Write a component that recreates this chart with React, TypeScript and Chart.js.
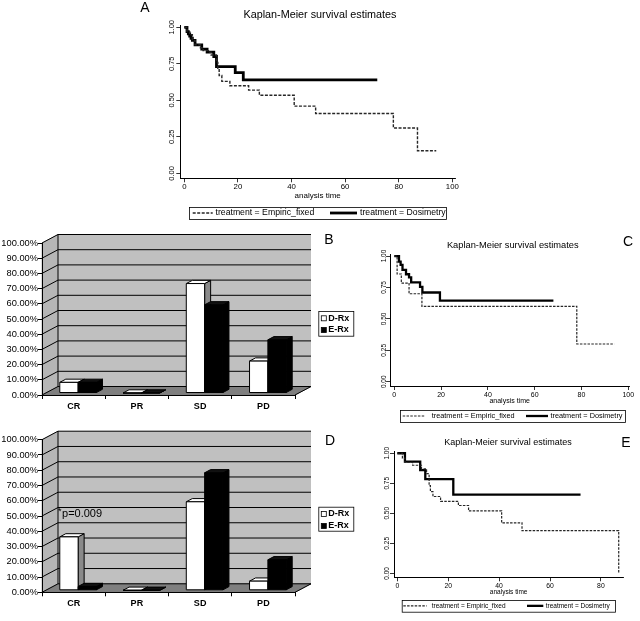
import React, { useEffect, useRef } from 'react';
import { Chart, registerables } from 'chart.js';

Chart.register(...registerables);

const FONT = "'Liberation Sans', Arial, Helvetica, sans-serif";
Chart.defaults.font.family = FONT;
Chart.defaults.color = '#000';

// ---------------- data ----------------
const kmTitle = 'Kaplan-Meier survival estimates';
const kmXTitle = 'analysis time';
const kmSeriesNames = ['treatment = Empiric_fixed', 'treatment = Dosimetry'];
const kmYTicks = [0, 0.25, 0.5, 0.75, 1];
const kmXTicks100 = [0, 20, 40, 60, 80, 100];
const kmXTicks80 = [0, 20, 40, 60, 80];

// Panel A
const aEmpTime = [0, 1, 2, 3, 4, 6, 7, 9, 10, 12, 12.5, 13, 14, 17, 24, 28, 41, 49, 78, 87, 94];
const aEmpSurv = [1, 0.97, 0.95, 0.91, 0.88, 0.86, 0.84, 0.83, 0.81, 0.76, 0.72, 0.67, 0.63, 0.6, 0.57, 0.535, 0.46, 0.41, 0.31, 0.155, 0.155];
const aDosTime = [0, 1, 1.5, 2, 2.5, 3, 4, 6.5, 8.5, 11, 12, 19, 22, 72];
const aDosSurv = [1, 0.97, 0.955, 0.94, 0.925, 0.91, 0.88, 0.85, 0.83, 0.8, 0.73, 0.69, 0.64, 0.64];

// Panel C
const cEmpTime = [0, 1.2, 3, 6.3, 11.8, 78, 94];
const cEmpSurv = [1, 0.857, 0.785, 0.7, 0.6, 0.3, 0.3];
const cDosTime = [0, 2, 2.7, 3.5, 5, 6.3, 7.2, 11, 12, 19.5, 68];
const cDosSurv = [1, 0.955, 0.93, 0.89, 0.855, 0.83, 0.79, 0.755, 0.71, 0.645, 0.645];

// Panel E
const eEmpTime = [0, 2, 3, 6, 9.5, 11.5, 12.5, 13, 14, 17, 24, 28, 41, 49, 87];
const eEmpSurv = [1, 0.96, 0.925, 0.9, 0.87, 0.83, 0.73, 0.68, 0.64, 0.6, 0.565, 0.52, 0.42, 0.355, 0];
const eDosTime = [0, 3, 9, 11, 22, 72];
const eDosSurv = [1, 0.93, 0.86, 0.785, 0.655, 0.655];

// Bar panels B and D (percent of patients)
const responseCategories = ['CR', 'PR', 'SD', 'PD'];
const barSeriesNames = ['D-Rx', 'E-Rx'];
const bDRx = [7, 0, 72, 21];
const bERx = [7, 0, 58, 35];
const dDRx = [35, 0, 58, 6];
const dERx = [2.5, 0, 77, 20];
const pctTicks = [0, 10, 20, 30, 40, 50, 60, 70, 80, 90, 100];
const dNote = 'p=0.009';

// ---------------- helpers ----------------
const EMP_COLOR = '#262626';

function pts(t: number[], s: number[]) {
  return t.map((x, i) => ({ x, y: s[i] }));
}

function kmConfig(g: any) {
  const ox = g.left, oy = g.top;
  const decor = {
    id: 'kmDecor',
    afterDraw(chart: any) {
      const ctx = chart.ctx;
      ctx.save();
      ctx.fillStyle = '#000';
      ctx.textBaseline = 'middle';
      ctx.textAlign = 'center';
      ctx.font = `${g.titleSize}px ${FONT}`;
      ctx.fillText(kmTitle, g.titleX - ox, g.titleY - oy);
      ctx.font = `${g.letterSize}px ${FONT}`;
      ctx.fillText(g.letter, g.letterX - ox, g.letterY - oy);
      const ys = chart.scales.y;
      ctx.font = `${g.yLabSize}px ${FONT}`;
      kmYTicks.forEach((v) => {
        ctx.save();
        ctx.translate(g.yLabX - ox, ys.getPixelForValue(v));
        ctx.rotate(-Math.PI / 2);
        ctx.fillText(v.toFixed(2), 0, 0);
        ctx.restore();
      });
      const L = g.legend;
      ctx.strokeStyle = '#000';
      ctx.lineWidth = 0.8;
      ctx.strokeRect(L.x1 - ox + 0.5, L.y1 - oy + 0.5, L.x2 - L.x1, L.y2 - L.y1);
      const ly = (L.y1 + L.y2) / 2 - oy;
      ctx.beginPath();
      ctx.setLineDash(g.dash);
      ctx.lineWidth = g.dashW;
      ctx.strokeStyle = EMP_COLOR;
      ctx.moveTo(L.d[0] - ox, ly);
      ctx.lineTo(L.d[1] - ox, ly);
      ctx.stroke();
      ctx.setLineDash([]);
      ctx.beginPath();
      ctx.lineWidth = g.solidW;
      ctx.strokeStyle = '#000';
      ctx.moveTo(L.s[0] - ox, ly);
      ctx.lineTo(L.s[1] - ox, ly);
      ctx.stroke();
      ctx.textAlign = 'left';
      ctx.font = `${L.size}px ${FONT}`;
      ctx.fillText(kmSeriesNames[0], L.t1 - ox, ly);
      ctx.fillText(kmSeriesNames[1], L.t2 - ox, ly);
      ctx.restore();
    },
  };
  const gridOpts = { display: true, drawOnChartArea: false, drawTicks: true, tickLength: 4, color: '#000', lineWidth: 0.8 };
  return {
    type: 'line',
    data: {
      datasets: [
        { label: kmSeriesNames[0], data: pts(g.empT, g.empS), stepped: 'before', borderColor: EMP_COLOR, borderWidth: g.dashW, borderDash: g.dash, pointRadius: 0, fill: false, clip: false },
        { label: kmSeriesNames[1], data: pts(g.dosT, g.dosS), stepped: 'before', borderColor: '#000', borderWidth: g.solidW, pointRadius: 0, fill: false, clip: false },
      ],
    },
    options: {
      responsive: false,
      animation: false,
      devicePixelRatio: 1,
      events: [],
      layout: { padding: g.pad },
      plugins: { legend: { display: false }, title: { display: false }, tooltip: { enabled: false } },
      scales: {
        x: {
          type: 'linear', min: g.xMin, max: g.xMax,
          afterBuildTicks: (s: any) => { s.ticks = g.xTicks.map((v: number) => ({ value: v })); },
          afterFit: (s: any) => { s.height = g.xH; },
          grid: gridOpts,
          border: { display: true, color: '#000', width: 1 },
          ticks: { font: { size: g.xTickSize }, color: '#000', padding: g.xTickPad, maxRotation: 0, minRotation: 0, autoSkip: false },
          title: { display: true, text: kmXTitle, font: { size: g.xTitleSize }, color: '#000', padding: { top: 0, bottom: g.xTitlePad } },
        },
        y: {
          type: 'linear', min: g.yMin, max: g.yMax,
          afterBuildTicks: (s: any) => { s.ticks = kmYTicks.map((v) => ({ value: v })); },
          afterFit: (s: any) => { s.width = g.yW; },
          grid: gridOpts,
          border: { display: true, color: '#000', width: 1 },
          ticks: { display: false },
        },
      },
    },
    plugins: [decor],
  };
}

function poly(ctx: any, p: number[][], fill: string, stroke: string) {
  ctx.beginPath();
  ctx.moveTo(p[0][0], p[0][1]);
  for (let i = 1; i < p.length; i++) ctx.lineTo(p[i][0], p[i][1]);
  ctx.closePath();
  ctx.fillStyle = fill;
  ctx.fill();
  ctx.strokeStyle = stroke;
  ctx.stroke();
}

function barConfig(g: any) {
  const ox = g.left, oy = g.top;
  const dx = 16, dy = -8.5; // wall depth
  const sx = 4.5, sy = -2; // bar placement inside the depth
  const bdx = 6, bdy = -3.2; // bar depth
  const plugin = {
    id: 'bar3d',
    beforeDraw(chart: any) {
      const ctx = chart.ctx;
      const a = chart.chartArea;
      const y = chart.scales.y;
      ctx.save();
      ctx.lineWidth = 1;
      poly(ctx, [[a.left, a.top], [a.left + dx, a.top + dy], [a.left + dx, a.bottom + dy], [a.left, a.bottom]], '#b6b6b6', '#b6b6b6');
      ctx.fillStyle = '#c0c0c0';
      ctx.fillRect(a.left + dx, a.top + dy, a.right - a.left, a.bottom - a.top);
      poly(ctx, [[a.left, a.bottom], [a.left + dx, a.bottom + dy], [a.right + dx, a.bottom + dy], [a.right, a.bottom]], '#7f7f7f', '#7f7f7f');
      ctx.strokeStyle = '#000';
      ctx.lineWidth = 1;
      pctTicks.forEach((v) => {
        const py = y.getPixelForValue(v);
        ctx.beginPath();
        ctx.moveTo(a.left, py);
        ctx.lineTo(a.left + dx, py + dy);
        ctx.lineTo(a.right + dx, py + dy);
        ctx.stroke();
      });
      ctx.beginPath();
      ctx.moveTo(a.left + dx, a.top + dy);
      ctx.lineTo(a.left + dx, a.bottom + dy);
      ctx.moveTo(a.right, a.bottom);
      ctx.lineTo(a.right + dx, a.bottom + dy);
      ctx.stroke();
      ctx.restore();
    },
    afterDatasetsDraw(chart: any) {
      const ctx = chart.ctx;
      ctx.save();
      ctx.lineWidth = 1;
      chart.data.datasets.forEach((_: any, di: number) => {
        const meta = chart.getDatasetMeta(di);
        const white = di === 0;
        meta.data.forEach((el: any) => {
          const { x, y, base, width } = el.getProps(['x', 'y', 'base', 'width'], true);
          const l = x - width / 2 + sx, r = x + width / 2 + sx, t = y + sy, b = base + sy;
          poly(ctx, [[r, t], [r + bdx, t + bdy], [r + bdx, b + bdy], [r, b]], white ? '#8a8a8a' : '#000', '#000');
          poly(ctx, [[l, t], [l + bdx, t + bdy], [r + bdx, t + bdy], [r, t]], white ? '#fff' : '#111', '#000');
          poly(ctx, [[l, t], [r, t], [r, b], [l, b]], white ? '#fff' : '#000', '#000');
        });
      });
      ctx.restore();
    },
    afterDraw(chart: any) {
      const ctx = chart.ctx;
      ctx.save();
      ctx.fillStyle = '#000';
      ctx.textBaseline = 'middle';
      ctx.textAlign = 'center';
      ctx.font = `14px ${FONT}`;
      ctx.fillText(g.letter, g.letterX - ox, g.letterY - oy);
      const L = g.legend;
      ctx.strokeStyle = '#000';
      ctx.lineWidth = 0.8;
      ctx.strokeRect(L.x1 - ox + 0.5, L.y1 - oy + 0.5, L.x2 - L.x1, L.y2 - L.y1);
      ctx.font = `bold 9px ${FONT}`;
      ctx.textAlign = 'left';
      L.rows.forEach((ry: number, i: number) => {
        const yy = ry - oy;
        ctx.fillStyle = i === 0 ? '#fff' : '#000';
        ctx.fillRect(L.x1 - ox + 3, yy - 2.5, 5, 5);
        ctx.strokeStyle = '#000';
        ctx.strokeRect(L.x1 - ox + 3, yy - 2.5, 5, 5);
        ctx.fillStyle = '#000';
        ctx.fillText(barSeriesNames[i], L.x1 - ox + 10, yy);
      });
      if (g.note) {
        const xs = chart.scales.x;
        const ys = chart.scales.y;
        const nx = xs.getPixelForValue(0) - 11.6;
        const ny = ys.getPixelForValue(51.5);
        ctx.font = `11px ${FONT}`;
        ctx.fillText(g.note, nx, ny);
        ctx.font = `9px ${FONT}`;
        ctx.fillText('*', nx - 4, ny - 2.5);
      }
      ctx.restore();
    },
  };
  const ds = (i: number, data: number[]) => ({
    label: barSeriesNames[i], data, backgroundColor: 'rgba(0,0,0,0)', borderWidth: 0, categoryPercentage: 0.58, barPercentage: 1,
  });
  return {
    type: 'bar',
    data: { labels: responseCategories, datasets: [ds(0, g.d), ds(1, g.e)] },
    options: {
      responsive: false,
      animation: false,
      devicePixelRatio: 1,
      events: [],
      layout: { padding: g.pad },
      plugins: { legend: { display: false }, title: { display: false }, tooltip: { enabled: false } },
      scales: {
        x: {
          grid: { display: true, drawOnChartArea: false, offset: true, tickLength: 4, color: '#000', lineWidth: 1 },
          border: { display: true, color: '#000', width: 1 },
          ticks: { font: { size: 9, weight: 'bold' }, color: '#000', padding: 2.3 },
          afterFit: (s: any) => { s.height = 25; },
        },
        y: {
          min: 0, max: 100,
          afterBuildTicks: (s: any) => { s.ticks = pctTicks.map((v) => ({ value: v })); },
          afterFit: (s: any) => { s.width = 42; },
          grid: { display: true, drawOnChartArea: false, tickLength: 4, color: '#000', lineWidth: 1 },
          border: { display: true, color: '#000', width: 1 },
          ticks: { callback: (v: any) => Number(v).toFixed(2) + '%', font: { size: 9.3 }, color: '#000', padding: 0, autoSkip: false },
        },
      },
    },
    plugins: [plugin],
  };
}

// ---------------- panel geometry ----------------
const panelA = {
  left: 130, top: 0, width: 350, height: 225,
  xMin: -1.5, xMax: 101, yMin: -0.034, yMax: 1.015, xTicks: kmXTicks100,
  pad: { left: 30.3, right: 25, top: 25.1, bottom: 21.7 }, yW: 20, xH: 25,
  xTickSize: 7.8, xTickPad: 0, xTitleSize: 8, xTitlePad: 2.5,
  titleX: 320, titleY: 15, titleSize: 10.8, letter: 'A', letterX: 145, letterY: 8, letterSize: 14,
  yLabX: 171.7, yLabSize: 7.5,
  legend: { x1: 189, y1: 207, x2: 446, y2: 219, d: [192.7, 212.7], t1: 215.5, s: [330, 357], t2: 360, size: 8.7 },
  empT: aEmpTime, empS: aEmpSurv, dosT: aDosTime, dosS: aDosSurv, dash: [3, 1.5], dashW: 1.4, solidW: 2.8,
};

const panelC = {
  left: 380, top: 225, width: 260, height: 205,
  xMin: -1.8, xMax: 100.4, yMin: -0.034, yMax: 1.013, xTicks: kmXTicks100,
  pad: { left: 4.1, right: 10.8, top: 29.4, bottom: 24 }, yW: 6, xH: 20,
  xTickSize: 7, xTickPad: 1, xTitleSize: 7, xTitlePad: 0.8,
  titleX: 512.8, titleY: 245, titleSize: 9.3, letter: 'C', letterX: 628, letterY: 242, letterSize: 14,
  yLabX: 384, yLabSize: 6.5,
  legend: { x1: 400, y1: 410, x2: 625, y2: 422, d: [402.7, 425], t1: 431.7, s: [526, 548], t2: 550.5, size: 7.3 },
  empT: cEmpTime, empS: cEmpSurv, dosT: cDosTime, dosS: cDosSurv, dash: [2.5, 1.3], dashW: 1.2, solidW: 2.3,
};

const panelE = {
  left: 380, top: 432, width: 260, height: 189,
  xMin: -1.3, xMax: 88.8, yMin: -0.033, yMax: 1.013, xTicks: kmXTicks80,
  pad: { left: 8, right: 16.7, top: 19.7, bottom: 23.7 }, yW: 6, xH: 20,
  xTickSize: 6.8, xTickPad: 0.3, xTitleSize: 6.5, xTitlePad: 1.1,
  titleX: 508, titleY: 443, titleSize: 9, letter: 'E', letterX: 626, letterY: 443, letterSize: 14,
  yLabX: 387.3, yLabSize: 6.5,
  legend: { x1: 401.7, y1: 600, x2: 615, y2: 611.7, d: [403.3, 426.7], t1: 431.7, s: [527, 543.3], t2: 545.7, size: 6.5 },
  empT: eEmpTime, empS: eEmpSurv, dosT: eDosTime, dosS: eDosSurv, dash: [2.5, 1.3], dashW: 1.2, solidW: 2.3,
};

const panelB = {
  left: 0, top: 225, width: 380, height: 205,
  pad: { left: 0, right: 85, top: 18, bottom: 10 },
  d: bDRx, e: bERx, letter: 'B', letterX: 329, letterY: 240,
  legend: { x1: 318.3, y1: 311, x2: 353.3, y2: 335.7, rows: [318.3, 330] },
  note: '',
};

const panelD = {
  left: 0, top: 430, width: 380, height: 191,
  pad: { left: 0, right: 85, top: 9.7, bottom: 3.7 },
  d: dDRx, e: dERx, letter: 'D', letterX: 330, letterY: 441,
  legend: { x1: 318.3, y1: 506.7, x2: 353.3, y2: 530.7, rows: [514, 526] },
  note: dNote,
};

function Panel({ g, make }: { g: any; make: (g: any) => any }) {
  const ref = useRef<HTMLCanvasElement | null>(null);
  useEffect(() => {
    if (!ref.current) return;
    const chart = new Chart(ref.current, make(g));
    return () => chart.destroy();
  }, []);
  return (
    <canvas
      ref={ref}
      width={g.width}
      height={g.height}
      style={{ position: 'absolute', left: g.left, top: g.top, width: g.width, height: g.height }}
    />
  );
}

export default function App() {
  return (
    <div style={{ position: 'absolute', left: 0, top: 0, width: 640, height: 621, background: '#fff', overflow: 'hidden' }}>
      <Panel g={panelA} make={kmConfig} />
      <Panel g={panelB} make={barConfig} />
      <Panel g={panelC} make={kmConfig} />
      <Panel g={panelD} make={barConfig} />
      <Panel g={panelE} make={kmConfig} />
    </div>
  );
}
